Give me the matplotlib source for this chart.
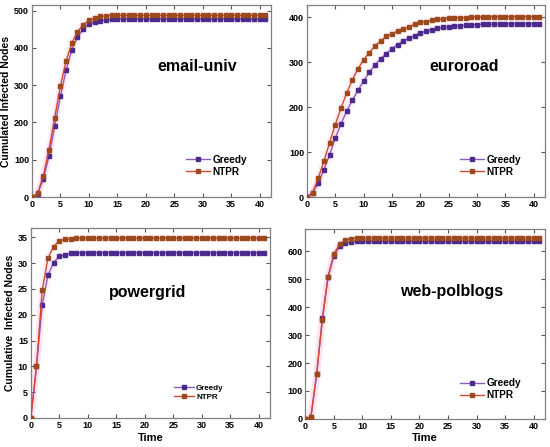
import numpy as np
import matplotlib
matplotlib.use('Agg')
import matplotlib.pyplot as plt
import matplotlib.ticker as ticker

plt.rcParams['font.family'] = ['Liberation Sans', 'DejaVu Sans']
plt.rcParams['font.weight'] = 'bold'

#------------------------------------------------------------------------------
# DATA

time = np.arange(0, 42)

# email-univ
email_greedy = [0, 8, 48, 110, 190, 270, 340, 395, 428, 450, 463, 470, 473, 475, 476, 477] + [477] * 26
email_ntpr   = [0, 10, 57, 127, 213, 297, 365, 412, 443, 462, 474, 480, 484, 486, 487, 487] + [487] * 26

# euroroad
euro_greedy = [0, 10, 31, 61, 94, 131, 162, 191, 215, 237, 258, 277, 294, 307, 319, 330,
               339, 347, 354, 359, 365, 368, 372, 375, 377, 379, 380, 381, 382, 383, 383,
               384, 384, 384, 385, 385, 385, 385, 385, 385, 385, 385]
euro_ntpr   = [0, 10, 42, 80, 121, 161, 197, 231, 260, 285, 305, 321, 336, 347, 357, 363,
               369, 374, 379, 384, 388, 390, 393, 395, 396, 398, 398, 399, 399, 400, 400,
               400, 400, 401, 401, 401, 401, 401, 401, 401, 401, 401]

# powergrid
power_greedy = [0, 10, 21.8, 27.6, 30.1, 31.3, 31.6, 31.9] + [32] * 34
power_ntpr   = [0, 10, 24.7, 30.9, 33.2, 34.3, 34.6, 34.7] + [34.8] * 34

# web-polblogs
web_greedy = [0, 8, 161, 362, 510, 582, 618, 630, 635] + [636] * 33
web_ntpr   = [0, 8, 161, 356, 510, 590, 626, 641, 646] + [648] * 33

panels = [
    ('email-univ',   email_greedy, email_ntpr, 515, 100, 'Cumulated Infected Nodes', False),
    ('euroroad',     euro_greedy,  euro_ntpr,  427, 100, '',                         False),
    ('powergrid',    power_greedy, power_ntpr, 36.8, 5,  'Cumulative  Infected Nodes', True),
    ('web-polblogs', web_greedy,   web_ntpr,   681, 100, '',                         True),
]

# axes positions [left, bottom, width, height]
positions = [
    [0.058, 0.559, 0.435, 0.430],
    [0.558, 0.559, 0.433, 0.430],
    [0.056, 0.065, 0.435, 0.425],
    [0.555, 0.063, 0.436, 0.425],
]
title_pos = [(0.69, 0.68), (0.66, 0.68), (0.49, 0.66), (0.61, 0.67)]
legend_pos = [(0.93, 0.07), (0.93, 0.07), (0.83, 0.06), (0.93, 0.06)]
legend_size = [7.2, 7.2, 5.8, 7.2]

greedy_line, greedy_mark = '#8a5cc0', '#4a2a8c'
ntpr_line, ntpr_mark = '#d24a2a', '#9c4a1c'

#------------------------------------------------------------------------------
# PLOT

fig = plt.figure(figsize=(5.5, 4.47), dpi=100)

for i, (name, g, n, ytop, ystep, ylab, show_x) in enumerate(panels):
    ax = fig.add_axes(positions[i])

    # faint pink glow around curves
    ax.plot(time, g, color='#ff66cc', lw=5, alpha=0.10, zorder=1)
    ax.plot(time, n, color='#ff66cc', lw=5, alpha=0.10, zorder=1)

    ax.plot(time, g, color=greedy_line, lw=1, marker='s', ms=3,
            mfc=greedy_mark, mec=greedy_mark, label='Greedy', zorder=3)
    ax.plot(time, n, color=ntpr_line, lw=1, marker='s', ms=3,
            mfc=ntpr_mark, mec=ntpr_mark, label='NTPR', zorder=4)

    ax.set_xlim(0, 42)
    ax.set_ylim(0, ytop)
    ax.xaxis.set_major_locator(ticker.MultipleLocator(5))
    ax.yaxis.set_major_locator(ticker.MultipleLocator(ystep))
    ax.tick_params(direction='in', top=True, right=True, length=3, width=0.8,
                   labelsize=6.5, pad=2, colors='#555555', labelcolor='black')
    for lab in ax.get_xticklabels() + ax.get_yticklabels():
        lab.set_fontweight('bold')
    for sp in ax.spines.values():
        sp.set_color('#808080')
        sp.set_linewidth(0.9)

    ax.text(title_pos[i][0], title_pos[i][1], name, transform=ax.transAxes,
            ha='center', va='center', fontsize=11.5, fontweight='bold')

    if ylab:
        ax.set_ylabel(ylab, fontsize=7.5, fontweight='bold', labelpad=2)
    if show_x:
        ax.set_xlabel('Time', fontsize=8, fontweight='bold', labelpad=2)

    ax.legend(loc='lower right', bbox_to_anchor=legend_pos[i], frameon=False,
              prop={'size': legend_size[i], 'weight': 'bold'},
              handlelength=2.4, handletextpad=0.3, labelspacing=0.2, borderpad=0.2)

plt.savefig('out.png', dpi=100)
